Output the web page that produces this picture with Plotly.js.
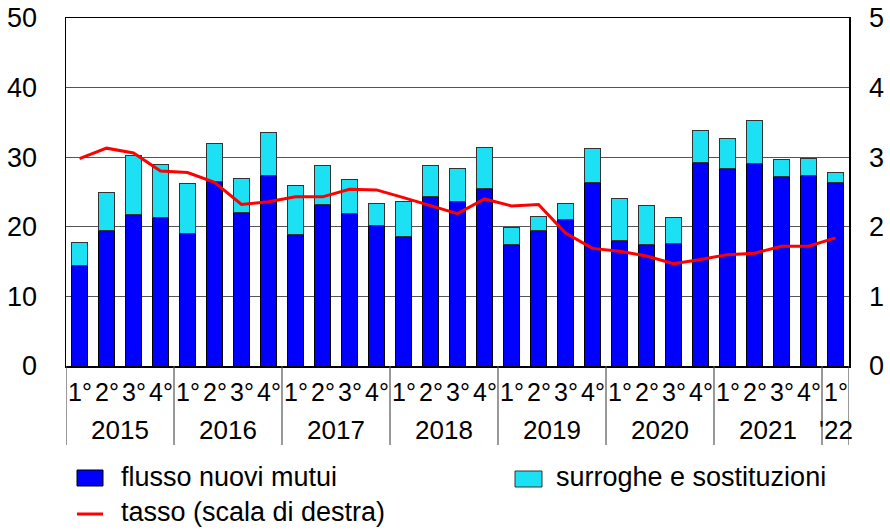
<!DOCTYPE html>
<html>
<head>
<meta charset="utf-8">
<script src="https://cdn.plot.ly/plotly-3.0.1.min.js"></script>
<style>html,body{margin:0;padding:0;background:#fff;}#chart{width:890px;height:530px;}</style>
</head>
<body>
<div id="chart"></div>
<script>
const years = ["2015","2015","2015","2015","2016","2016","2016","2016","2017","2017","2017","2017","2018","2018","2018","2018","2019","2019","2019","2019","2020","2020","2020","2020","2021","2021","2021","2021","'22"];
const quarters = ["1°","2°","3°","4°","1°","2°","3°","4°","1°","2°","3°","4°","1°","2°","3°","4°","1°","2°","3°","4°","1°","2°","3°","4°","1°","2°","3°","4°","1°"];
const nuoviMutui = [14.4,19.4,21.7,21.4,19.0,26.5,22.0,27.4,18.9,23.2,21.9,20.2,18.6,24.3,23.7,25.5,17.4,19.5,21.1,26.3,18.0,17.4,17.6,29.3,28.4,29.1,27.2,27.4,26.3];
const totale = [17.7,25.0,30.3,28.9,26.2,31.9,27.0,33.5,26.0,28.8,26.8,23.3,23.6,28.8,28.4,31.4,19.9,21.5,23.4,31.2,24.1,23.1,21.4,33.8,32.7,35.3,29.7,29.8,27.8];
const surroghe = totale.map((t,i)=>+(t-nuoviMutui[i]).toFixed(1));
const tasso = [2.98,3.13,3.06,2.80,2.78,2.64,2.32,2.36,2.43,2.43,2.54,2.53,2.42,2.31,2.19,2.40,2.30,2.32,1.91,1.69,1.65,1.58,1.47,1.53,1.60,1.62,1.72,1.72,1.84];
const seriesNames = ["flusso nuovi mutui","surroghe e sostituzioni","tasso (scala di destra)"];
const colors = {blue:'#0000FF', cyan:'#1CE0F4', red:'#FF0000'};

// category keys (one per quarter)
const cats = years.map((y,i)=>y+' '+quarters[i]);
const fontFam = '"Liberation Sans", Arial, sans-serif';

const traces = [
  {type:'bar', x:cats, y:nuoviMutui, name:seriesNames[0],
   marker:{color:colors.blue, line:{color:'#000000', width:1}}},
  {type:'bar', x:cats, y:surroghe, name:seriesNames[1],
   marker:{color:colors.cyan, line:{color:'#333333', width:1}}},
  {type:'scatter', mode:'lines', x:cats, y:tasso, name:seriesNames[2], yaxis:'y2',
   line:{color:colors.red, width:3}}
];

const W = 890, H = 530, ML = 66, MR = 41, MT = 18, MB = 164;
const pw = W-ML-MR, ph = H-MT-MB;
const px = v => (v-ML)/pw;
const py = v => (H-MB-v)/ph;

const shapes = [];
const annotations = [];

// quarter labels
cats.forEach((c,i)=>{
  annotations.push({xref:'x', yref:'paper', x:c, y:py(392), text:quarters[i], showarrow:false,
    xanchor:'center', yanchor:'middle', font:{size:25, family:fontFam, color:'#000'}});
});
// year groups: labels and dividers
const groups = [];
years.forEach((y,i)=>{
  if (!groups.length || groups[groups.length-1].year !== y) groups.push({year:y, start:i, end:i});
  else groups[groups.length-1].end = i;
});
groups.forEach(g=>{
  annotations.push({xref:'x', yref:'paper', x:(g.start+g.end)/2, y:py(430), text:g.year, showarrow:false,
    xanchor:'center', yanchor:'middle', font:{size:26, family:fontFam, color:'#000'}});
  shapes.push({type:'line', xref:'x', yref:'paper', x0:g.start-0.5, x1:g.start-0.5, y0:0, y1:py(445),
    line:{color:'#555', width:1.2}});
});
shapes.push({type:'line', xref:'x', yref:'paper', x0:cats.length-0.5, x1:cats.length-0.5, y0:0, y1:py(445),
  line:{color:'#555', width:1.2}});

// manual legend
shapes.push(
  {type:'rect', xref:'paper', yref:'paper', x0:px(77), x1:px(103), y0:py(486), y1:py(470),
   fillcolor:colors.blue, line:{color:'#000', width:1}},
  {type:'rect', xref:'paper', yref:'paper', x0:px(515), x1:px(542), y0:py(487), y1:py(471),
   fillcolor:colors.cyan, line:{color:'#333', width:1}},
  {type:'line', xref:'paper', yref:'paper', x0:px(77), x1:px(103), y0:py(514), y1:py(514),
   line:{color:colors.red, width:3}}
);
annotations.push(
  {xref:'paper', yref:'paper', x:px(119), y:py(477), text:seriesNames[0], showarrow:false, xanchor:'left', yanchor:'middle', font:{size:27, family:fontFam, color:'#000'}},
  {xref:'paper', yref:'paper', x:px(554), y:py(477), text:seriesNames[1], showarrow:false, xanchor:'left', yanchor:'middle', font:{size:27, family:fontFam, color:'#000'}},
  {xref:'paper', yref:'paper', x:px(119), y:py(512), text:seriesNames[2], showarrow:false, xanchor:'left', yanchor:'middle', font:{size:27, family:fontFam, color:'#000'}}
);

const layout = {
  width:W, height:H,
  margin:{l:ML, r:MR, t:MT, b:MB},
  paper_bgcolor:'#ffffff', plot_bgcolor:'#ffffff',
  font:{family:fontFam, size:26, color:'#000'},
  barmode:'stack', bargap:0.44,
  showlegend:false,
  shapes:shapes, annotations:annotations,
  xaxis:{type:'category', showline:true, linecolor:'#000', linewidth:1.5, mirror:true,
    showticklabels:false, ticks:'', showgrid:false, automargin:false, range:[-0.5, cats.length-0.5]},
  yaxis:{range:[0,50], dtick:10, showgrid:true, gridcolor:'#555', gridwidth:1.3,
    showline:true, linecolor:'#000', linewidth:1.5, mirror:true, zeroline:false,
    tickfont:{size:27, family:fontFam, color:'#000'}, ticklabelstandoff:22, automargin:false},
  yaxis2:{range:[0,5], dtick:1, overlaying:'y', side:'right', showgrid:false, zeroline:false,
    showline:false, tickfont:{size:27, family:fontFam, color:'#000'}, ticklabelstandoff:19, automargin:false}
};

Plotly.newPlot('chart', traces, layout, {staticPlot:true, displayModeBar:false});
</script>
</body>
</html>
